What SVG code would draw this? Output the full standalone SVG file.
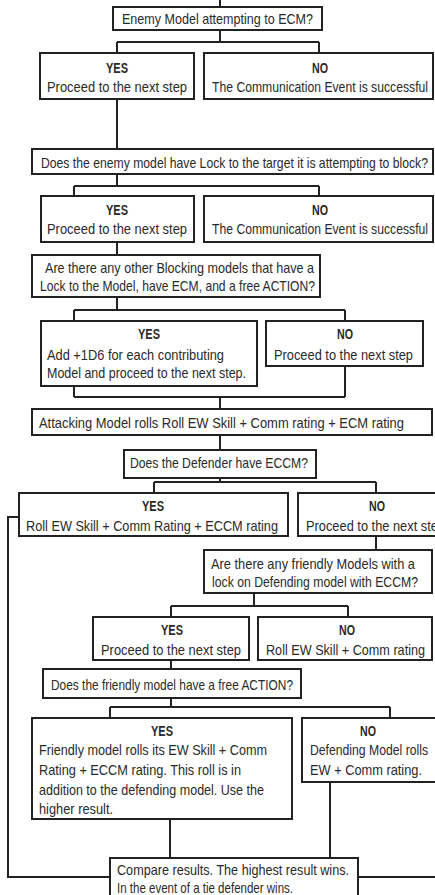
<svg xmlns="http://www.w3.org/2000/svg" width="435" height="895" viewBox="0 0 435 895">
<style>
.b{fill:#fff;stroke:#222;stroke-width:2}
.c{fill:none;stroke:#222;stroke-width:2}
text{font-family:"Liberation Sans","DejaVu Sans",sans-serif;font-size:14.5px;fill:#2a2a2a}
.h{font-weight:bold;font-size:14px}
</style>
<rect width="435" height="895" fill="#fff"/>
<g id="connectors">
<path class="c" d="M220,0V7 M220,30V42 M117,42H319 M117,42V53 M319,42V53"/>
<path class="c" d="M117,99V149 M117,174V186 M74,186H319 M74,186V196 M319,186V196"/>
<path class="c" d="M117,242V255 M117,297V310 M74,310H345 M74,310V321 M345,310V321"/>
<path class="c" d="M74,386V397 M345,366V397 M74,397H345 M220,397V409"/>
<path class="c" d="M220,435V450 M220,478V482 M154,482H376 M154,482V493 M376,482V493"/>
<path class="c" d="M376,536V550 M254,593V606 M171,606H348 M171,606V617 M348,606V617"/>
<path class="c" d="M171,660V669 M171,698V707 M110,707H390 M110,707V718 M390,707V718"/>
<path class="c" d="M170,819V858 M330,782V858"/>
<path class="c" d="M19,517H8V877H110 M358,877H435"/>
</g>
<g id="n1"><rect class="b" x="113" y="7" width="209" height="23"/>
<text x="122" y="24" textLength="191" lengthAdjust="spacingAndGlyphs">Enemy Model attempting to ECM?</text></g>
<g id="n2"><rect class="b" x="40" y="53" width="154" height="46"/>
<text class="h" x="106" y="73" textLength="22" lengthAdjust="spacingAndGlyphs">YES</text>
<text x="47" y="92" textLength="140" lengthAdjust="spacingAndGlyphs">Proceed to the next step</text></g>
<g id="n3"><rect class="b" x="204" y="53" width="229" height="46"/>
<text class="h" x="312" y="73" textLength="16" lengthAdjust="spacingAndGlyphs">NO</text>
<text x="212" y="92" textLength="216" lengthAdjust="spacingAndGlyphs">The Communication Event is successful</text></g>
<g id="n4"><rect class="b" x="32" y="149" width="401" height="25"/>
<text x="41" y="168" textLength="387" lengthAdjust="spacingAndGlyphs">Does the enemy model have Lock to the target it is attempting to block?</text></g>
<g id="n5"><rect class="b" x="41" y="196" width="153" height="46"/>
<text class="h" x="106" y="215" textLength="22" lengthAdjust="spacingAndGlyphs">YES</text>
<text x="47" y="234" textLength="140" lengthAdjust="spacingAndGlyphs">Proceed to the next step</text></g>
<g id="n6"><rect class="b" x="204" y="196" width="229" height="46"/>
<text class="h" x="312" y="215" textLength="16" lengthAdjust="spacingAndGlyphs">NO</text>
<text x="212" y="234" textLength="216" lengthAdjust="spacingAndGlyphs">The Communication Event is successful</text></g>
<g id="n7"><rect class="b" x="32" y="255" width="288" height="42"/>
<text x="45" y="273" textLength="269" lengthAdjust="spacingAndGlyphs">Are there any other Blocking models that have a</text>
<text x="40" y="291" textLength="275" lengthAdjust="spacingAndGlyphs">Lock to the Model, have ECM, and a free ACTION?</text></g>
<g id="n8"><rect class="b" x="41" y="321" width="216" height="65"/>
<text class="h" x="138" y="339" textLength="22" lengthAdjust="spacingAndGlyphs">YES</text>
<text x="47" y="360" textLength="177" lengthAdjust="spacingAndGlyphs">Add +1D6 for each contributing</text>
<text x="47" y="378" textLength="199" lengthAdjust="spacingAndGlyphs">Model and proceed to the next step.</text></g>
<g id="n9"><rect class="b" x="266" y="321" width="157" height="45"/>
<text class="h" x="337" y="339" textLength="16" lengthAdjust="spacingAndGlyphs">NO</text>
<text x="274" y="360" textLength="139" lengthAdjust="spacingAndGlyphs">Proceed to the next step</text></g>
<g id="n10"><rect class="b" x="32" y="409" width="400" height="26"/>
<text x="39" y="428" textLength="365" lengthAdjust="spacingAndGlyphs">Attacking Model rolls Roll EW Skill + Comm rating + ECM rating</text></g>
<g id="n11"><rect class="b" x="124" y="450" width="192" height="28"/>
<text x="130" y="468" textLength="178" lengthAdjust="spacingAndGlyphs">Does the Defender have ECCM?</text></g>
<g id="n12"><rect class="b" x="19" y="493" width="269" height="43"/>
<text class="h" x="142" y="511" textLength="22" lengthAdjust="spacingAndGlyphs">YES</text>
<text x="26" y="531" textLength="252" lengthAdjust="spacingAndGlyphs">Roll EW Skill + Comm Rating + ECCM rating</text></g>
<g id="n13"><rect class="b" x="298" y="493" width="160" height="43"/>
<text class="h" x="369" y="511" textLength="16" lengthAdjust="spacingAndGlyphs">NO</text>
<text x="306" y="531" textLength="139" lengthAdjust="spacingAndGlyphs">Proceed to the next step</text></g>
<g id="n14"><rect class="b" x="204" y="550" width="228" height="43"/>
<text x="211" y="569" textLength="204" lengthAdjust="spacingAndGlyphs">Are there any friendly Models with a</text>
<text x="212" y="587" textLength="206" lengthAdjust="spacingAndGlyphs">lock on Defending model with ECCM?</text></g>
<g id="n15"><rect class="b" x="93" y="617" width="156" height="43"/>
<text class="h" x="161" y="635" textLength="22" lengthAdjust="spacingAndGlyphs">YES</text>
<text x="101" y="655" textLength="140" lengthAdjust="spacingAndGlyphs">Proceed to the next step</text></g>
<g id="n16"><rect class="b" x="258" y="617" width="174" height="43"/>
<text class="h" x="339" y="635" textLength="16" lengthAdjust="spacingAndGlyphs">NO</text>
<text x="266" y="655" textLength="159" lengthAdjust="spacingAndGlyphs">Roll EW Skill + Comm rating</text></g>
<g id="n17"><rect class="b" x="43" y="669" width="258" height="29"/>
<text x="51" y="690" textLength="242" lengthAdjust="spacingAndGlyphs">Does the friendly model have a free ACTION?</text></g>
<g id="n18"><rect class="b" x="32" y="718" width="260" height="101"/>
<text class="h" x="151" y="736" textLength="22" lengthAdjust="spacingAndGlyphs">YES</text>
<text x="39" y="755" textLength="228" lengthAdjust="spacingAndGlyphs">Friendly model rolls its EW Skill + Comm</text>
<text x="39" y="775" textLength="202" lengthAdjust="spacingAndGlyphs">Rating + ECCM rating. This roll is in</text>
<text x="39" y="795" textLength="225" lengthAdjust="spacingAndGlyphs">addition to the defending model. Use the</text>
<text x="39" y="814" textLength="74" lengthAdjust="spacingAndGlyphs">higher result.</text></g>
<g id="n19"><rect class="b" x="302" y="718" width="150" height="64"/>
<text class="h" x="360" y="736" textLength="16" lengthAdjust="spacingAndGlyphs">NO</text>
<text x="310" y="755" textLength="118" lengthAdjust="spacingAndGlyphs">Defending Model rolls</text>
<text x="310" y="775" textLength="112" lengthAdjust="spacingAndGlyphs">EW + Comm rating.</text></g>
<g id="n20"><rect class="b" x="110" y="858" width="248" height="50"/>
<text x="117" y="875" textLength="232" lengthAdjust="spacingAndGlyphs">Compare results. The highest result wins.</text>
<text x="117" y="893" textLength="176" lengthAdjust="spacingAndGlyphs">In the event of a tie defender wins.</text></g>
</svg>
